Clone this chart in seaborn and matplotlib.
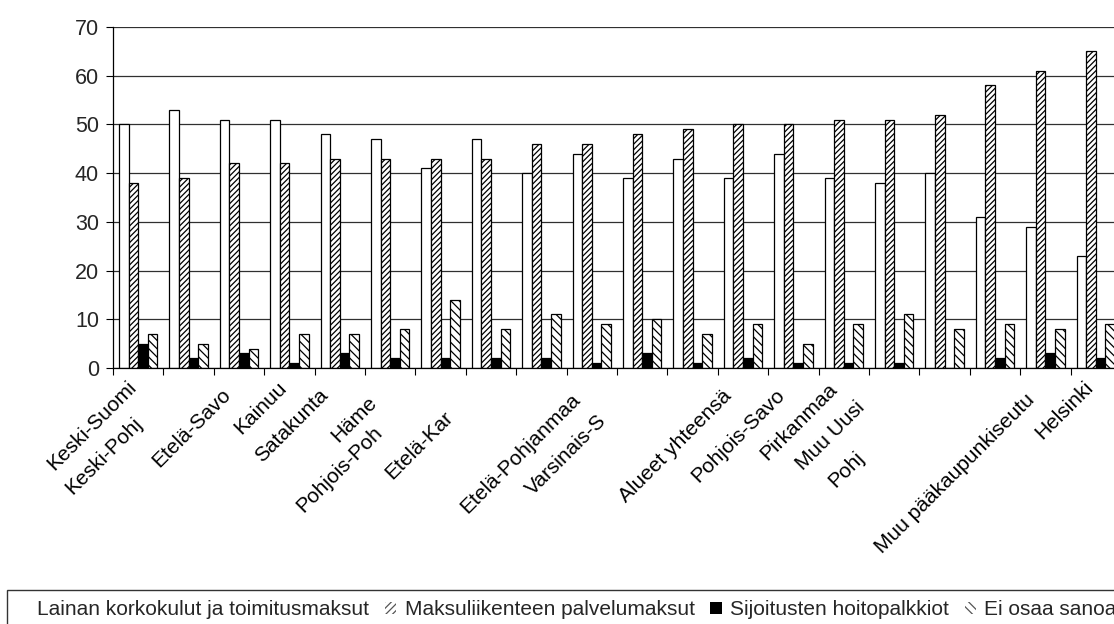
import pandas as pd
import matplotlib
matplotlib.use('Agg')
import matplotlib.pyplot as plt
import matplotlib.transforms as mtransforms
from matplotlib.patches import Patch
import seaborn as sns

# Alueet (20 ryhmää)
alueet = ['Keski-Suomi', 'Keski-Pohjanmaa', 'Etelä-Savo', 'Kainuu', 'Satakunta',
          'Häme', 'Pohjois-Pohjanmaa', 'Etelä-Karjala', 'Lappi', 'Etelä-Pohjanmaa',
          'Varsinais-Suomi', 'Kymenlaakso', 'Alueet yhteensä', 'Pohjois-Savo',
          'Pirkanmaa', 'Muu Uusimaa', 'Pohjois-Karjala', 'Päijät-Häme',
          'Muu pääkaupunkiseutu', 'Helsinki']

sarjat = ['Lainan korkokulut ja toimitusmaksut', 'Maksuliikenteen palvelumaksut',
          'Sijoitusten hoitopalkkiot', 'Ei osaa sanoa']

lainan_korot = [50, 53, 51, 51, 48, 47, 41, 47, 40, 44, 39, 43, 39, 44, 39, 38, 40, 31, 29, 23]
maksuliikenne = [38, 39, 42, 42, 43, 43, 43, 43, 46, 46, 48, 49, 50, 50, 51, 51, 52, 58, 61, 65]
sijoitukset = [5, 2, 3, 1, 3, 2, 2, 2, 2, 1, 3, 1, 2, 1, 1, 1, 0, 2, 3, 2]
ei_osaa = [7, 5, 4, 7, 7, 8, 14, 8, 11, 9, 10, 7, 9, 5, 9, 11, 8, 9, 8, 9]

# Akselin tekstit sellaisina kuin ne näkyvät (osa leikkautunut)
nakyvat_nimet = ['Keski-Suomi', 'Keski-Pohj', 'Etelä-Savo', 'Kainuu', 'Satakunta',
                 'Häme', 'Pohjois-Poh', 'Etelä-Kar', 'Etelä-Pohjanmaa', 'Varsinais-S',
                 'Alueet yhteensä', 'Pohjois-Savo', 'Pirkanmaa', 'Muu Uusi', 'Pohj',
                 'Muu pääkaupunkiseutu', 'Helsinki']
# sijainti: (kohta x-akselilla, pudotus pikseleinä akselin alapuolelle)
nimien_paikat = [(-0.02, 16), (0.08, 53), (1.84, 24), (2.95, 17), (3.77, 24),
                 (4.74, 32), (4.84, 62), (6.25, 47), (8.77, 29), (9.30, 50),
                 (11.78, 25), (12.83, 24), (13.88, 19), (14.42, 37), (14.42, 87),
                 (17.79, 29), (18.95, 17)]

df = pd.DataFrame({'Alue': alueet * 4,
                   'Sarja': [s for s in sarjat for _ in alueet],
                   'Arvo': lainan_korot + maksuliikenne + sijoitukset + ei_osaa})

sns.set_theme(style='white')
plt.rcParams['font.family'] = ['Liberation Sans', 'DejaVu Sans']
plt.rcParams['hatch.linewidth'] = 0.9

fig = plt.figure(figsize=(11.14, 6.24), dpi=100)
ax = fig.add_axes([113 / 1114, 1 - 368 / 624, 1008 / 1114, 341 / 624])

sns.barplot(data=df, x='Alue', y='Arvo', hue='Sarja', order=alueet, hue_order=sarjat,
            palette=['white', 'white', 'black', 'white'], width=0.76,
            edgecolor='black', linewidth=0.9, legend=False, ax=ax)

kuviot = [None, '//////', None, '\\\\\\\\']
for kontti, kuvio in zip(ax.containers, kuviot):
    for palkki in kontti:
        palkki.set_edgecolor('black')
        if kuvio:
            palkki.set_hatch(kuvio)

ax.set_xlim(-0.5, len(alueet) - 0.5)
ax.set_ylim(0, 70)
ax.set_yticks(range(0, 71, 10))
ax.yaxis.grid(True, color='#303030', linewidth=0.9)
ax.set_axisbelow(True)
ax.set_xticks([i - 0.5 for i in range(len(alueet) + 1)])
ax.set_xticklabels([])
ax.tick_params(axis='x', length=5, width=0.8, color='black', direction='out', bottom=True)
ax.tick_params(axis='y', length=5, width=0.8, color='black', direction='out', left=True,
               labelsize=15.5, pad=5)
ax.set_xlabel('')
ax.set_ylabel('')
for s in ['top', 'right']:
    ax.spines[s].set_visible(False)
for s in ['left', 'bottom']:
    ax.spines[s].set_color('black')
    ax.spines[s].set_linewidth(0.9)

pohja = mtransforms.blended_transform_factory(ax.transData, ax.transAxes)
for nimi, (kohta, pudotus) in zip(nakyvat_nimet, nimien_paikat):
    tr = mtransforms.offset_copy(pohja, fig=fig, x=-10, y=-(pudotus - 7), units='dots')
    ax.text(kohta, 0, nimi, transform=tr, rotation=45, rotation_mode='anchor',
            ha='right', va='top', fontsize=15, color='black')

kahvat = [Patch(facecolor='white', edgecolor='white', linewidth=0),
          Patch(facecolor='white', edgecolor='#555555', hatch='/////', linewidth=0),
          Patch(facecolor='black', edgecolor='black', linewidth=0),
          Patch(facecolor='white', edgecolor='#555555', hatch='\\\\\\\\', linewidth=0)]
leg = fig.legend(kahvat, sarjat, loc='upper left', bbox_to_anchor=(7 / 1114, 1 - 590 / 624),
                 ncol=4, fontsize=15, frameon=True, fancybox=False, edgecolor='black',
                 handlelength=0.55, handleheight=0.55, handletextpad=0.4,
                 columnspacing=0.75, borderpad=0.5, borderaxespad=0)
leg.get_frame().set_linewidth(1.0)

fig.savefig('out.png', dpi=100)
